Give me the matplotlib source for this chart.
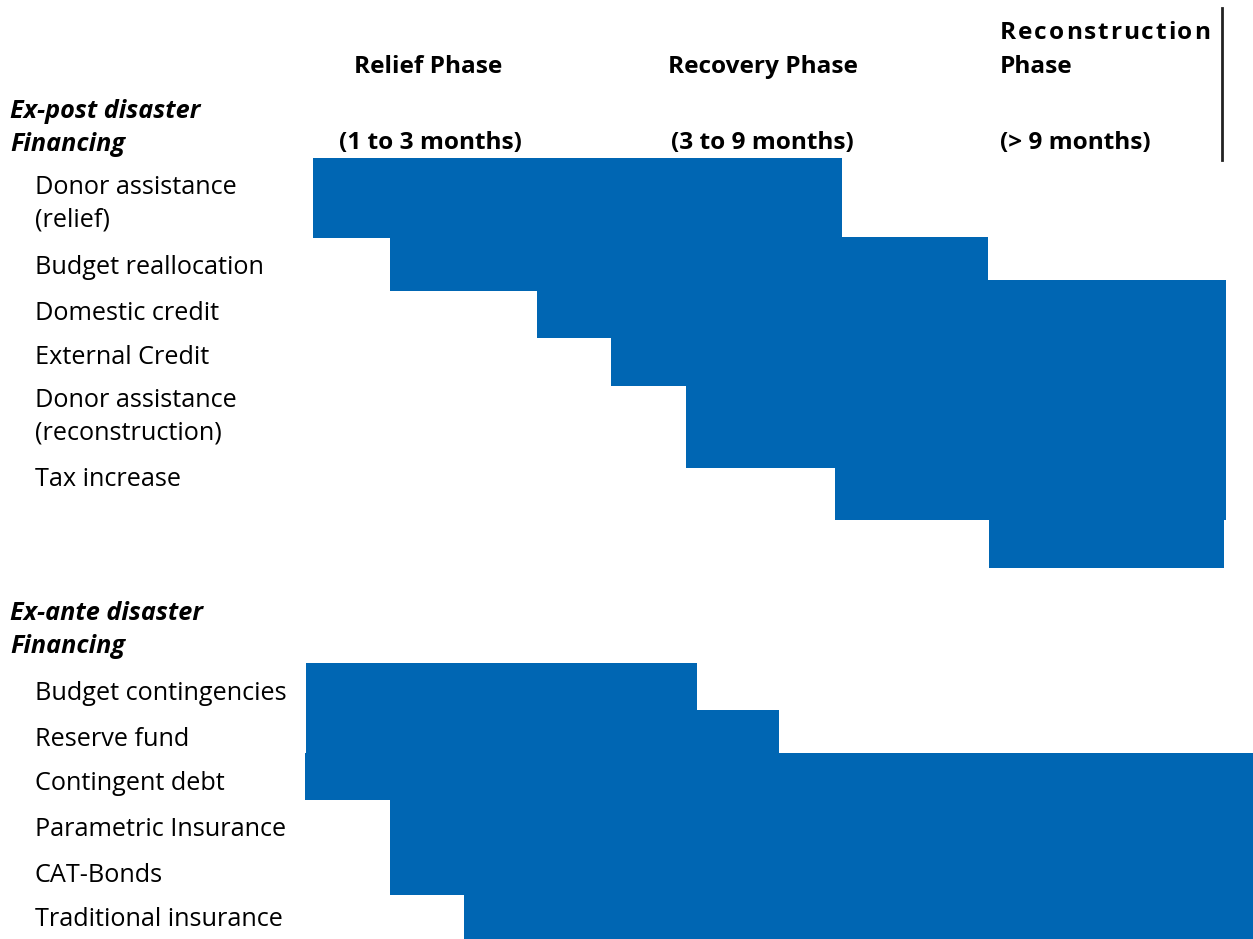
import matplotlib.pyplot as plt

# phase headers
phases = ["Relief Phase", "Recovery Phase", "Reconstruction", "Phase"]
phase_spans = ["(1 to 3 months)", "(3 to 9 months)", "(> 9 months)"]

# ex-post instruments and the bands they cover on the timeline
post_labels = ["Donor assistance\n(relief)", "Budget reallocation", "Domestic credit",
               "External Credit", "Donor assistance\n(reconstruction)", "Tax increase", ""]
post_start = [313, 390, 537, 611, 686, 835, 989]
post_end = [842, 988, 1226, 1226, 1226, 1226, 1224]
post_top = [158, 237, 280, 338, 386, 468, 520]
post_bottom = [238, 291, 338, 386, 468, 520, 568]

# ex-ante instruments
ante_labels = ["Budget contingencies", "Reserve fund", "Contingent debt",
               "Parametric Insurance", "CAT-Bonds", "Traditional insurance"]
ante_start = [306, 306, 305, 390, 390, 464]
ante_end = [697, 779, 1253, 1253, 1253, 1253]
ante_top = [663, 710, 753, 800, 848, 895]
ante_bottom = [710, 753, 800, 848, 895, 939]

post_label_y = [204, 267, 313, 357, 417, 480, 0]
ante_label_y = [693, 739, 784, 830, 875, 920]

blue = "#0066b3"
font = ["Open Sans", "DejaVu Sans"]
fs = 18.2
fsb = 17.6

fig = plt.figure(figsize=(12.53, 9.39), dpi=100)
ax = fig.add_axes([0, 0, 1, 1])
ax.set_xlim(0, 1253)
ax.set_ylim(939, 0)
ax.axis("off")

for s, e, t, b in zip(post_start, post_end, post_top, post_bottom):
    ax.barh((t + b) / 2, e - s, left=s, height=b - t, color=blue, linewidth=0)
for s, e, t, b in zip(ante_start, ante_end, ante_top, ante_bottom):
    ax.barh((t + b) / 2, e - s, left=s, height=b - t, color=blue, linewidth=0)

# headers
ax.text(428, 67, phases[0], ha="center", va="center", fontsize=fsb,
        weight="bold", family=font)
ax.text(763, 67, phases[1], ha="center", va="center", fontsize=fsb,
        weight="bold", family=font)

# letter-spaced "Reconstruction"
renderer = fig.canvas.get_renderer()
x = 1000
for ch in phases[2]:
    t = ax.text(x, 33, ch, ha="left", va="center", fontsize=fsb,
                weight="bold", family=font)
    w = t.get_window_extent(renderer).width
    x += w + 1.9
ax.text(1000, 67, phases[3], ha="left", va="center", fontsize=fsb,
        weight="bold", family=font)

for x, s in zip([339, 671, 1000], phase_spans):
    ax.text(x, 143, s, ha="left", va="center", fontsize=fsb,
            weight="bold", family=font)
ax.plot([1222, 1222], [8, 160], color="#222222", linewidth=2)

# section titles
ax.text(10, 128, "Ex-post disaster\nFinancing", ha="left", va="center",
        fontsize=fs, weight="bold", style="italic", family=font,
        linespacing=1.38)
ax.text(10, 630, "Ex-ante disaster\nFinancing", ha="left", va="center",
        fontsize=fs, weight="bold", style="italic", family=font,
        linespacing=1.38)

for lab, y in zip(post_labels, post_label_y):
    if lab:
        ax.text(35, y, lab, ha="left", va="center", fontsize=fs,
                family=font, linespacing=1.38)
for lab, y in zip(ante_labels, ante_label_y):
    ax.text(35, y, lab, ha="left", va="center", fontsize=fs,
            family=font)

fig.savefig("out.png", dpi=100)
